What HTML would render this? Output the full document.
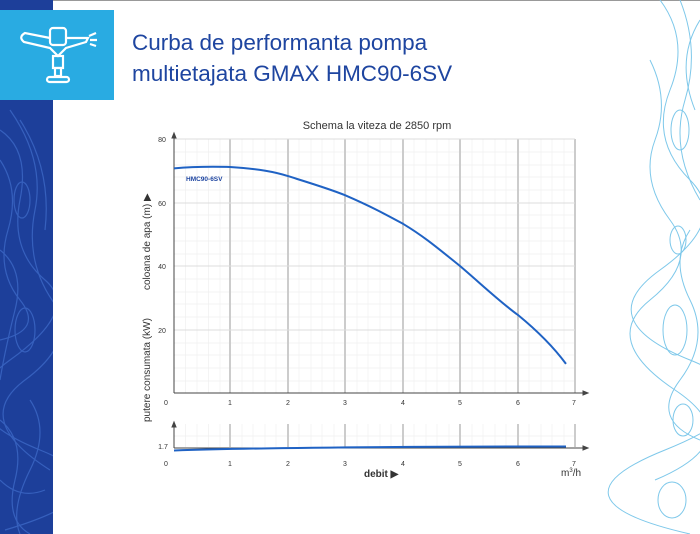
<!DOCTYPE html>
<html><head><meta charset="utf-8"><style>
body{margin:0;width:700px;height:534px;overflow:hidden;background:#fff;font-family:"Liberation Sans",sans-serif;position:relative}
</style></head><body>
<svg width="700" height="534" style="position:absolute;left:0;top:0">
<defs><clipPath id="cl"><rect x="0" y="0" width="53" height="534"/></clipPath><clipPath id="cr"><rect x="600" y="0" width="100" height="534"/></clipPath></defs>
<rect x="0" y="0" width="700" height="1" fill="#999"/>
<rect x="0" y="0" width="53" height="534" fill="#1d3f9a"/>
<g fill="none" stroke="#3b66c4" stroke-width="1.2" opacity="0.85" clip-path="url(#cl)">
<path d="M0 130 Q30 150 20 200 T45 280 T10 360 T40 450 T5 530"/>
<path d="M10 110 Q45 160 35 210 T52 300 T25 380 T50 470"/>
<path d="M0 250 Q25 270 15 310 T0 380"/>
<path d="M30 400 Q50 430 30 470 T20 534"/>
<path d="M0 160 Q20 190 8 230 T20 300 T0 340"/>
<path d="M20 120 Q52 170 45 230"/>
<path d="M0 420 Q25 440 15 480 T30 534"/>
<ellipse cx="25" cy="330" rx="10" ry="22"/>
<ellipse cx="22" cy="200" rx="8" ry="18"/>
<path d="M0 480 Q20 500 45 490"/>
</g>
<g fill="none" stroke="#7ec8ea" stroke-width="1" clip-path="url(#cr)">
<path d="M660 0 Q690 40 670 90 T690 180 T660 270 T690 360 T665 450 T690 534"/>
<path d="M680 0 Q700 50 685 100 T700 200"/>
<path d="M650 60 Q670 100 655 140 T670 220 T650 300 T675 390 T655 480"/>
<path d="M690 230 Q670 260 690 300 T680 380 T700 440"/>
<ellipse cx="675" cy="330" rx="12" ry="25"/>
<ellipse cx="680" cy="130" rx="9" ry="20"/>
<ellipse cx="672" cy="500" rx="14" ry="18"/>
<path d="M700 20 Q675 60 695 110"/>
<ellipse cx="678" cy="240" rx="8" ry="14"/>
<ellipse cx="683" cy="420" rx="10" ry="16"/>
</g>
<rect x="0" y="10" width="114" height="90" fill="#29abe2"/>
<g fill="none" stroke="#fff" stroke-width="2.2">
<rect x="50" y="28" width="16" height="17" rx="3"/>
<path d="M50 38 L25 33 Q18 37 24 42 L50 48 L58 56 L66 48 L86 42 L88 38 L66 38"/>
<rect x="53" y="56" width="10" height="12"/>
<rect x="55" y="68" width="6" height="8"/>
<rect x="47" y="77" width="22" height="5" rx="2.5"/>
<path d="M89 36 L96 33 M90 40 L97 40 M90 44 L96 46"/>
</g>
<text x="132" y="50" font-size="22.5" fill="#1e45a0">Curba de performanta pompa</text>
<text x="132" y="81" font-size="22.5" fill="#1e45a0">multietajata GMAX HMC90-6SV</text>
<text x="377" y="129" font-size="11" fill="#333" text-anchor="middle">Schema la viteza de 2850 rpm</text>
<g stroke="#f0f0f0" stroke-width="0.7">
<path d="M185.5 139V393M197 139V393M208.5 139V393M220 139V393M242 139V393M253 139V393M265 139V393M276 139V393M299 139V393M311 139V393M322 139V393M334 139V393M357 139V393M368 139V393M380 139V393M391 139V393M414 139V393M426 139V393M437 139V393M449 139V393M472 139V393M483 139V393M495 139V393M506 139V393M529 139V393M541 139V393M552 139V393M564 139V393"/>
<path d="M174 152H575M174 165H575M174 177H575M174 190H575M174 215H575M174 228H575M174 241H575M174 254H575M174 279H575M174 292H575M174 304H575M174 317H575M174 343H575M174 355H575M174 368H575M174 381H575"/>
</g>
<g stroke="#ccc" stroke-width="2">
<path d="M230 139V393M288 139V393M345 139V393M403 139V393M460 139V393M518 139V393M575 139V393"/>
</g>
<g stroke="#ddd" stroke-width="1"><path d="M174 139H575M174 203H575M174 266H575M174 330H575"/></g>
<g stroke="#444" stroke-width="1" fill="#444">
<path d="M174 393V136M174 393H585"/>
<path d="M172 138 L174 133 L176 138Z M583 391 L588 393 L583 395Z"/>
</g>
<g font-size="7" fill="#333" text-anchor="middle">
<text x="162" y="142">80</text><text x="162" y="206">60</text><text x="162" y="269">40</text><text x="162" y="333">20</text>
<text x="166" y="405">0</text><text x="230" y="405">1</text><text x="288" y="405">2</text><text x="345" y="405">3</text><text x="403" y="405">4</text><text x="460" y="405">5</text><text x="518" y="405">6</text><text x="574" y="405">7</text>
</g>
<path d="M174 168.4 C200 166 220 166.8 230 167 C260 169 275 172 288 176.1 C310 183 330 189 345 195.2 C370 206 385 214 403 223.8 C425 237 440 250 460 266 C480 283 500 302 518 315 C540 333 555 349 566 363.9" fill="none" stroke="#1f62c4" stroke-width="2"/>
<text x="186" y="181" font-size="6.5" font-weight="bold" fill="#1e45a0">HMC90-6SV</text>
<text transform="translate(150,290) rotate(-90)" font-size="10" fill="#333">coloana de apa (m) ▶</text>
<text transform="translate(150,422) rotate(-90)" font-size="10" fill="#333">putere consumata (kW)</text>
<g stroke="#f0f0f0" stroke-width="0.7">
<path d="M185.5 424V447M197 424V447M208.5 424V447M220 424V447M242 424V447M253 424V447M265 424V447M276 424V447M299 424V447M311 424V447M322 424V447M334 424V447M357 424V447M368 424V447M380 424V447M391 424V447M414 424V447M426 424V447M437 424V447M449 424V447M472 424V447M483 424V447M495 424V447M506 424V447M529 424V447M541 424V447M552 424V447M564 424V447M174 436H575"/>
</g>
<g stroke="#ccc" stroke-width="2"><path d="M230 424V447M288 424V447M345 424V447M403 424V447M460 424V447M518 424V447M575 424V447"/></g>
<g stroke="#444" stroke-width="1" fill="#444">
<path d="M174 448V425M174 448H585"/>
<path d="M172 427 L174 422 L176 427Z M583 446 L588 448 L583 450Z"/>
</g>
<path d="M174 450.5 C250 448 350 446.5 566 446.5" fill="none" stroke="#1f62c4" stroke-width="2"/>
<g font-size="7" fill="#333" text-anchor="middle">
<text x="163" y="449">1.7</text>
<text x="166" y="466">0</text><text x="230" y="466">1</text><text x="288" y="466">2</text><text x="345" y="466">3</text><text x="403" y="466">4</text><text x="460" y="466">5</text><text x="518" y="466">6</text><text x="574" y="466">7</text>
</g>
<text x="364" y="477" font-size="10" font-weight="bold" fill="#333">debit ▶</text>
<text x="561" y="476" font-size="10" fill="#333">m<tspan font-size="6" dy="-4">3</tspan><tspan dy="4">/h</tspan></text>
</svg>
</body></html>
